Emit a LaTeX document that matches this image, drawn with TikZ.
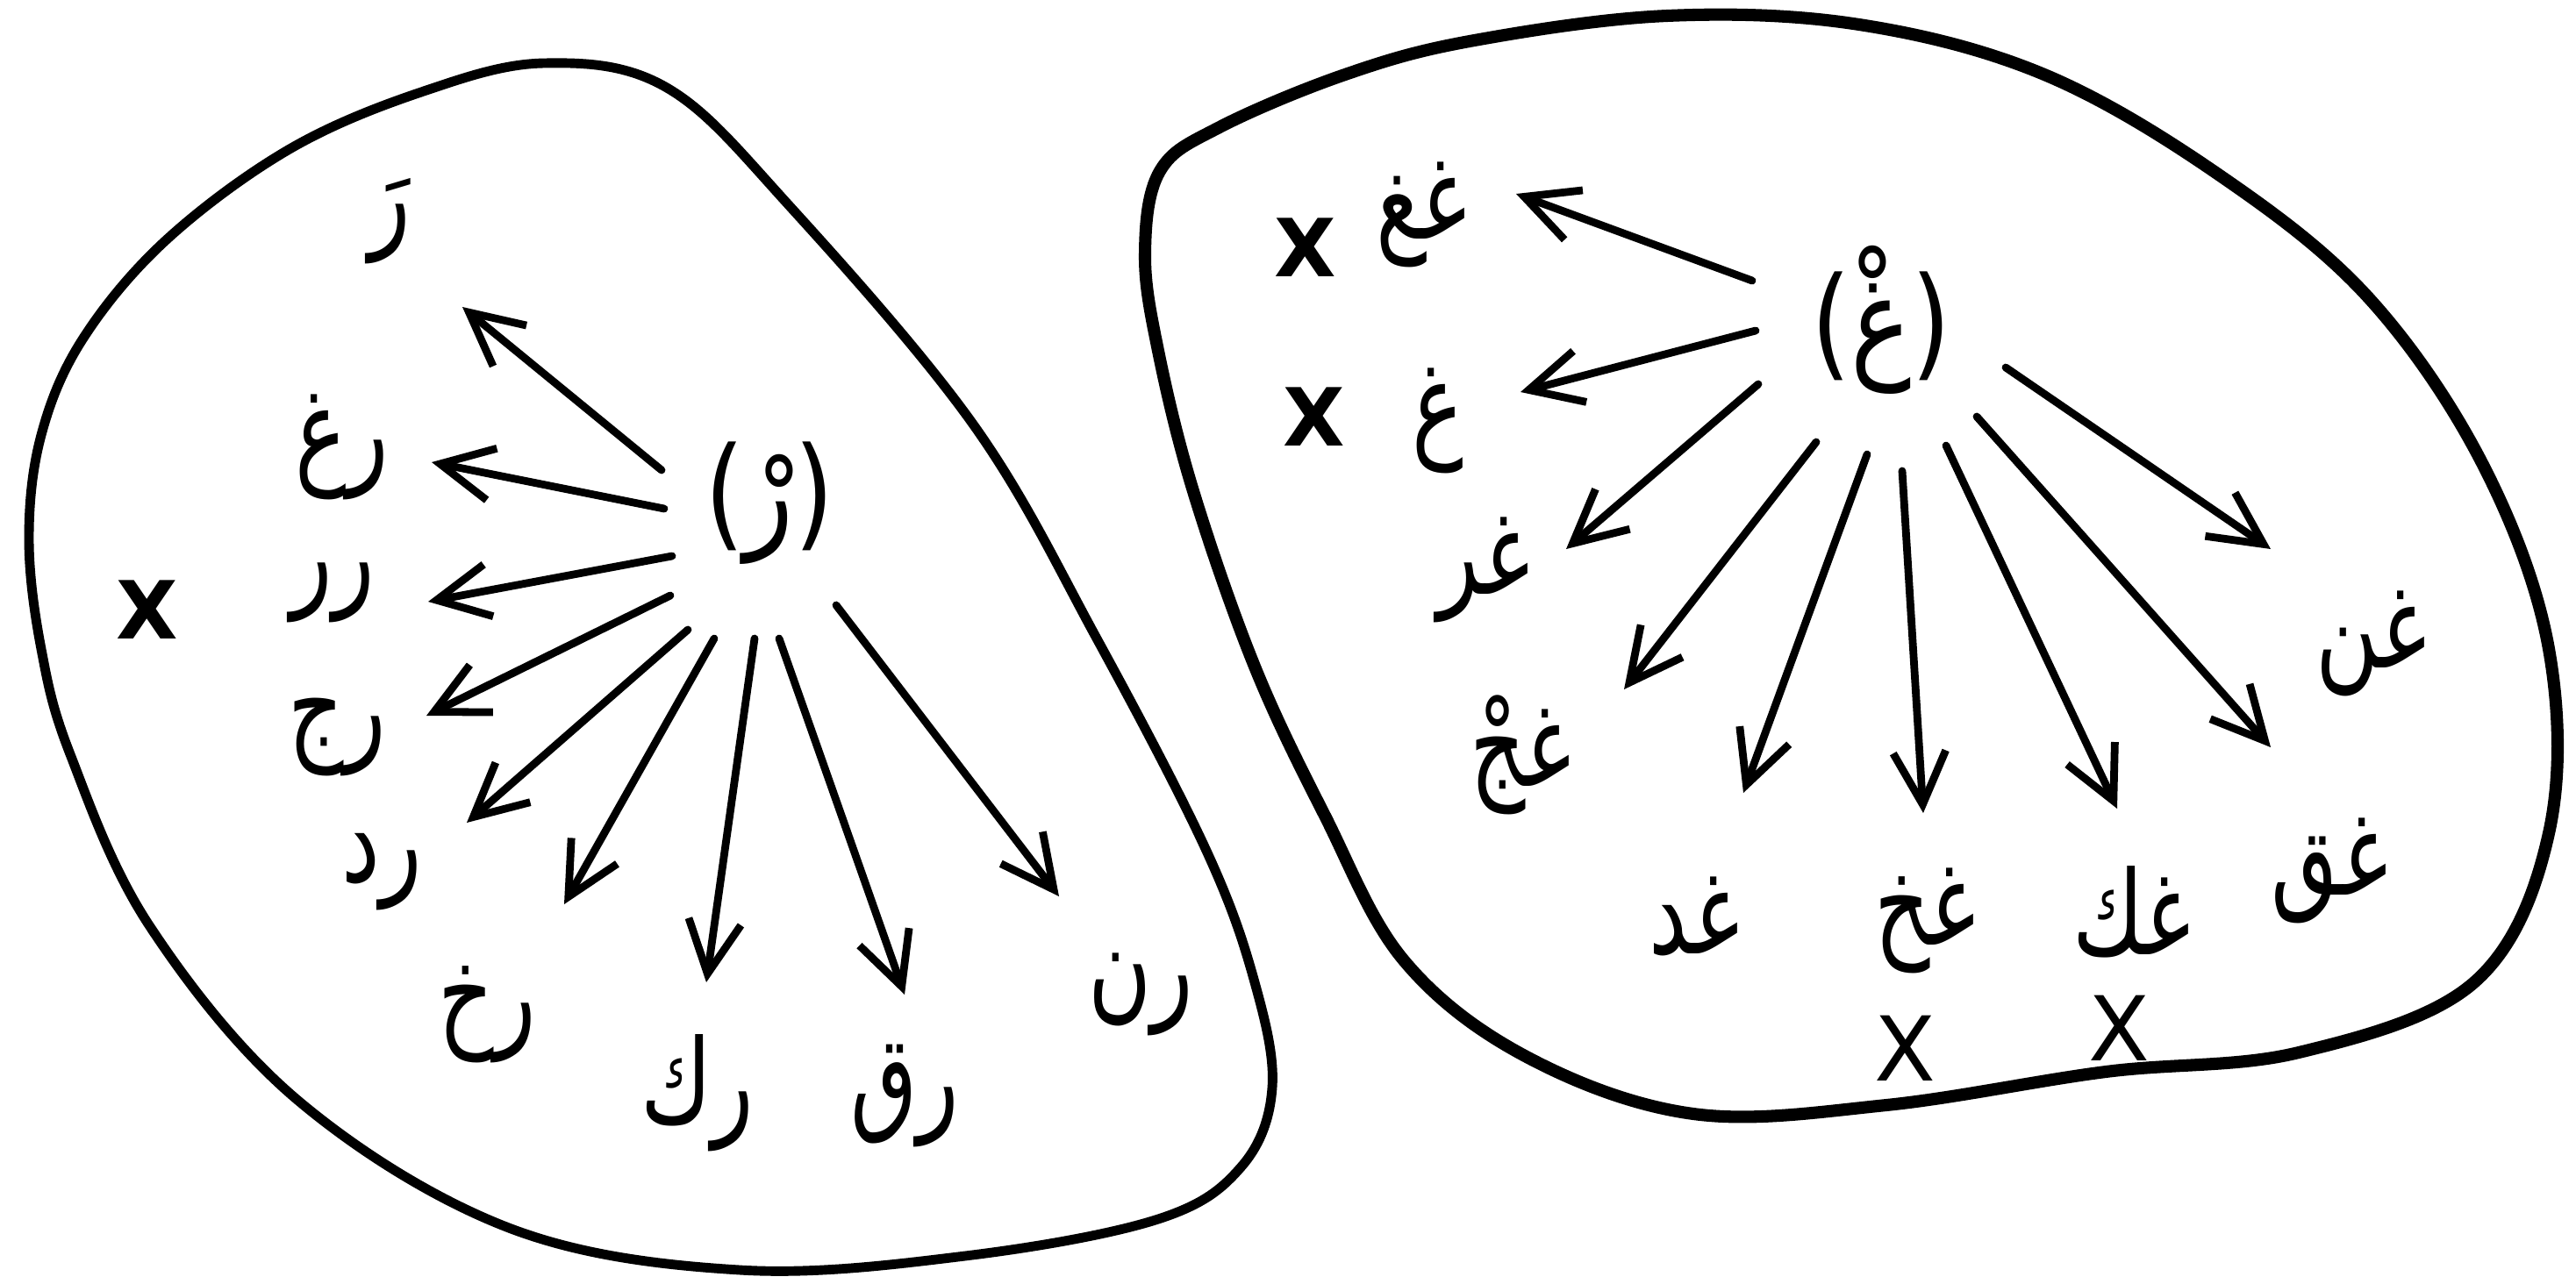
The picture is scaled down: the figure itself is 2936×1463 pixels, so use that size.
\documentclass[tikz,border=0pt]{standalone}
\usepackage{fontspec}
\TeXXeTstate=1
\newfontfamily\arabicfont[Script=Arabic]{DejaVu Sans}
\newfontfamily\xfont{DejaVu Sans}
\usetikzlibrary{arrows.meta}
\newcommand{\arw}[1]{\scalebox{1}[1.35]{\beginR #1\endR}}
\newcommand{\arc}[1]{\scalebox{1}[1.2]{#1}}
\begin{document}
\begin{tikzpicture}[x=0.01cm,y=-0.01cm,
  word/.style={font=\fontsize{28}{34}\selectfont\arabicfont, inner sep=0pt},
  cword/.style={font=\fontsize{33}{40}\selectfont\arabicfont, inner sep=0pt},
  boldx/.style={font=\fontsize{26}{30}\selectfont\xfont\bfseries, inner sep=0pt},
  thinx/.style={font=\fontsize{29}{30}\selectfont\xfont, inner sep=0pt},
  arr/.style={line width=2.5pt, line cap=round, -{Straight Barb[length=6mm,width=6mm,line width=2.5pt]}},
  blobL/.style={line width=3.1pt, line join=round},
  blobR/.style={line width=4pt, line join=round}]
\fill[white] (0,0) rectangle (2936,1463);
\useasboundingbox (0,0) rectangle (2936,1463);

% left blob
\draw[blobL] plot[smooth cycle, tension=0.6] coordinates {
 (620,72) (760,100) (900,235) (1110,485) (1250,728) (1375,970)
 (1430,1120) (1450,1240) (1415,1330) (1320,1390) (1100,1432) (843,1448)
 (580,1400) (340,1255) (170,1055) (80,860) (47,740) (33,614) (47,496)
 (94,387) (189,274) (330,170) (480,105)};

% right blob
\draw[blobR] plot[smooth cycle, tension=0.6] coordinates {
 (1322,195) (1390,145) (1533,85) (1675,47) (1900,18) (2119,28) (2330,85)
 (2530,200) (2700,340) (2830,530) (2905,740) (2905,950) (2820,1120)
 (2620,1200) (2400,1222) (2150,1260) (1930,1270) (1740,1205) (1600,1095)
 (1510,930) (1430,760) (1360,560) (1320,400) (1305,290)};

% left nodes
\node[cword] (cL) at (877,574) {\arc{(رْ)}};
\node[word] (l0) at (444,252) {\arw{رَ}};
\node[word] (l1) at (390,510) {\arw{رغ}};
\node[word] (l2) at (379,676) {\arw{رر}};
\node[word] (l3) at (384,840) {\arw{رج}};
\node[word] (l4) at (435,994) {\arw{رد}};
\node[word] (l5) at (555,1157) {\arw{رخ}};
\node[word] (l6) at (795,1246) {\arw{رك}};
\node[word] (l7) at (1031,1250) {\arw{رق}};
\node[word] (l8) at (1300,1134) {\arw{رن}};
\node[boldx] (xl) at (168,695) {X};

% right nodes
\node[cword] (cR) at (2144,365) {\arc{(غْ)}};
\node[word] (r1) at (1620,245) {\arw{غغ}};
\node[word] (r2) at (1639,480) {\arw{غ}};
\node[word] (r3) at (1691,650) {\arw{غر}};
\node[word] (r4) at (1733,861) {\arw{غجْ}};
\node[word] (r5) at (1931,1045) {\arw{غد}};
\node[word] (r6) at (2194,1050) {\arw{غخ}};
\node[word] (r7) at (2430,1040) {\arw{غك}};
\node[word] (r8) at (2655,993) {\arw{غق}};
\node[word] (r9) at (2703,734) {\arw{غن}};
\node[boldx] (x1) at (1488,282) {X};
\node[boldx] (x2) at (1498,475) {X};
\node[thinx] (x3) at (2171,1195) {X};
\node[thinx] (x4) at (2415,1172) {X};

% left arrows
\coordinate (a1s) at (754,536);  \coordinate (a1e) at (527,350);
\coordinate (a2s) at (757,580);  \coordinate (a2e) at (492,527);
\coordinate (a3s) at (766,634);  \coordinate (a3e) at (488,686);
\coordinate (a4s) at (764,679);  \coordinate (a4e) at (486,816);
\coordinate (a5s) at (784,718);  \coordinate (a5e) at (532,938);
\coordinate (a6s) at (814,728);  \coordinate (a6e) at (643,1031);
\coordinate (a7s) at (860,728);  \coordinate (a7e) at (805,1120);
\coordinate (a8s) at (888,728);  \coordinate (a8e) at (1031,1134);
\coordinate (a9s) at (953,690);  \coordinate (a9e) at (1207,1022);
\foreach \i in {1,...,9} {\draw[arr] (a\i s) -- (a\i e);}

% right arrows
\coordinate (b1s) at (1997,320); \coordinate (b1e) at (1728,221);
\coordinate (b2s) at (2001,377); \coordinate (b2e) at (1733,447);
\coordinate (b3s) at (2004,438); \coordinate (b3e) at (1785,626);
\coordinate (b4s) at (2070,504); \coordinate (b4e) at (1851,786);
\coordinate (b5s) at (2128,518); \coordinate (b5e) at (1987,904);
\coordinate (b6s) at (2168,537); \coordinate (b6e) at (2192,927);
\coordinate (b7s) at (2218,508); \coordinate (b7e) at (2413,922);
\coordinate (b8s) at (2253,475); \coordinate (b8e) at (2588,852);
\coordinate (b9s) at (2286,419); \coordinate (b9e) at (2588,626);
\foreach \i in {1,...,9} {\draw[arr] (b\i s) -- (b\i e);}
\end{tikzpicture}
\end{document}
